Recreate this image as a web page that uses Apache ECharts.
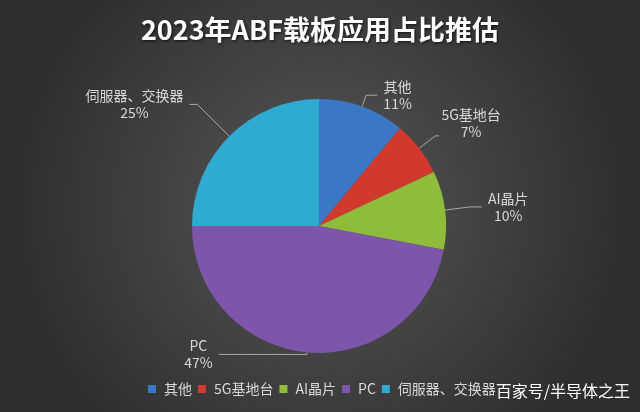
<!DOCTYPE html>
<html><head><meta charset="utf-8">
<script src="https://cdn.jsdelivr.net/npm/echarts@6/dist/echarts.min.js"></script>
<style>html,body{margin:0;padding:0;}#c{width:640px;height:412px;}</style>
</head><body><div id="c"></div>
<script>
const categories = ['其他', '5G基地台', 'AI晶片', 'PC', '伺服器、交换器'];
const values = [11, 7, 10, 47, 25];
const colors = ['#3a78c6', '#d1392f', '#8fbd3b', '#7d56ab', '#2faad0'];
const lineLen = [12, 20, 25, 2, 45];
const lineLen2 = [11, 4, 12, 88, 8];

const labelFont = '14px "Noto Sans CJK SC"';
const ctx = document.createElement('canvas').getContext('2d');
ctx.font = labelFont;
const total = values.reduce((a, b) => a + b, 0);
function labelWidth(i) {
  const pct = Math.round(values[i] / total * 100) + '%';
  return Math.ceil(Math.max(ctx.measureText(categories[i]).width, ctx.measureText(pct).width)) + 2;
}

const chart = echarts.init(document.getElementById('c'));
chart.setOption({
  backgroundColor: {
    type: 'radial', x: 0.5, y: 0.5, r: 0.75,
    colorStops: [{offset: 0, color: '#575757'}, {offset: 1, color: '#2e2e2e'}]
  },
  title: {
    text: '2023年ABF载板应用占比推估', left: 'center', top: 11,
    textStyle: {color: '#ffffff', fontSize: 27, fontWeight: 'bold', fontFamily: 'Noto Sans CJK SC',
      textShadowColor: 'rgba(0,0,0,0.7)', textShadowBlur: 3, textShadowOffsetX: 1, textShadowOffsetY: 1}
  },
  legend: {
    data: categories, left: 143, top: 377, itemWidth: 8, itemHeight: 8, itemGap: 6,
    icon: 'rect',
    textStyle: {color: '#d8d8d8', fontSize: 14, fontFamily: 'Noto Sans CJK SC', padding: [0,0,0,3]}
  },
  graphic: [{
    type: 'text', right: 10, top: 383,
    style: {text: '百家号/半导体之王', fill: '#ffffff', fontSize: 16, fontFamily: 'Noto Sans CJK SC'}
  }],
  series: [{
    type: 'pie', center: [319, 226], radius: 127, startAngle: 90, clockwise: true,
    avoidLabelOverlap: false,
    data: categories.map((n, i) => ({
      name: n, value: values[i], itemStyle: {color: colors[i]},
      labelLine: {length: lineLen[i], length2: lineLen2[i]},
      label: {rich: {c: {width: labelWidth(i), align: 'center', color: '#d8d8d8', fontSize: 14,
        lineHeight: 17, fontFamily: 'Noto Sans CJK SC'}}}
    })),
    label: {
      show: true, formatter: '{c|{b}}\n{c|{d}%}', color: '#d8d8d8', fontSize: 14, lineHeight: 17,
      fontFamily: 'Noto Sans CJK SC', distanceToLabelLine: 5
    },
    labelLayout: function (p) {
      return p.dataIndex === 1 ? {dx: -4, dy: -13} : {};
    },
    labelLine: {show: true, lineStyle: {color: '#a8a8a8', width: 1}},
    itemStyle: {borderWidth: 0}
  }]
});
</script></body></html>
